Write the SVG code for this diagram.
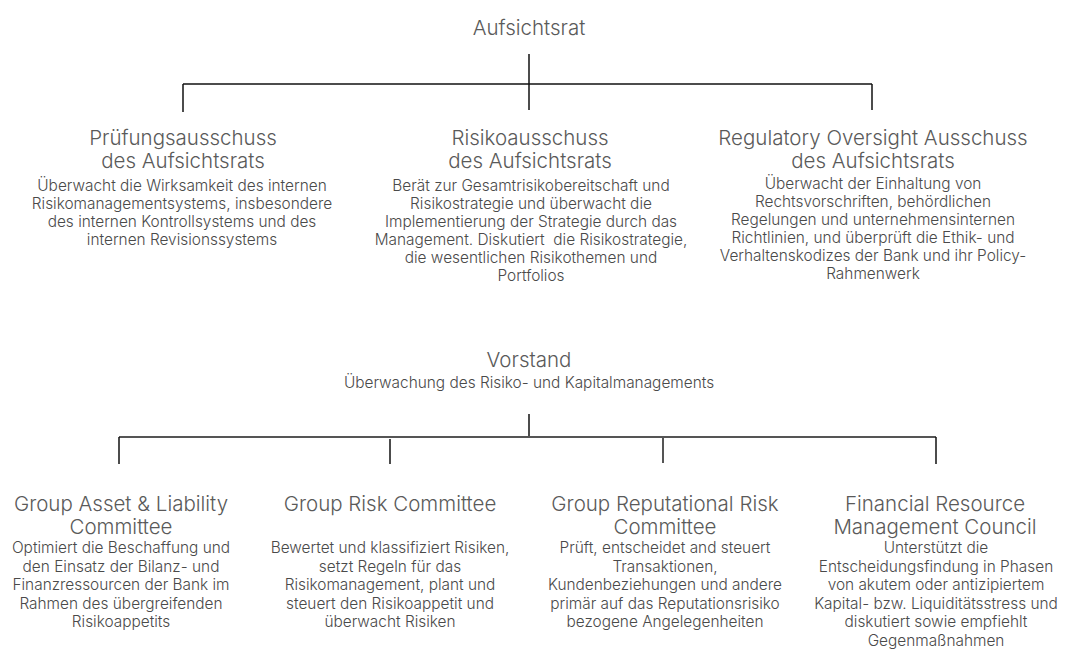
<svg xmlns="http://www.w3.org/2000/svg" width="1065" height="649" viewBox="0 0 1065 649">
  <style>
    text { font-family: Inter, "Open Sans", "Liberation Sans", sans-serif; text-anchor: middle; font-weight: 300; }
    .title { font-size: 20.5px; fill: #5a5a5a; }
    .desc { font-size: 15.4px; fill: #4a4a4a; }
    .line { stroke: #111; stroke-width: 1.5; fill: none; }
    .line-grey { stroke: #555; stroke-width: 2; fill: none; }
  </style>
  <rect width="1065" height="649" fill="#ffffff"/>

  <!-- connectors -->
  <g id="connectors">
    <!-- supervisory board tree -->
    <line class="line" x1="529" y1="54" x2="529" y2="84" stroke-width="2.2"/>
    <line class="line" x1="529" y1="84" x2="529" y2="110"/>
    <line class="line" x1="183" y1="84" x2="872" y2="84"/>
    <line class="line" x1="183" y1="84" x2="183" y2="112"/>
    <line class="line" x1="872" y1="84" x2="872" y2="110"/>
    <!-- management board tree -->
    <line class="line" x1="529" y1="414" x2="529" y2="437"/>
    <line class="line-grey" x1="119" y1="437" x2="936" y2="437"/>
    <line class="line" x1="119" y1="437" x2="119" y2="464"/>
    <line class="line" x1="390" y1="439" x2="390" y2="464"/>
    <line class="line-grey" x1="663" y1="437" x2="663" y2="463"/>
    <line class="line" x1="936" y1="437" x2="936" y2="464"/>
  </g>

  <g id="aufsichtsrat">
    <text class="title" x="529" y="35">Aufsichtsrat</text>
  </g>

  <g id="pruefungsausschuss">
    <text class="title" x="183" y="145">Prüfungsausschuss</text>
    <text class="title" x="183" y="168">des Aufsichtsrats</text>
    <text class="desc" x="182" y="191">Überwacht die Wirksamkeit des internen</text>
    <text class="desc" x="182" y="209">Risikomanagementsystems, insbesondere</text>
    <text class="desc" x="182" y="227">des internen Kontrollsystems und des</text>
    <text class="desc" x="182" y="245">internen Revisionssystems</text>
  </g>

  <g id="risikoausschuss">
    <text class="title" x="530" y="145">Risikoausschuss</text>
    <text class="title" x="530" y="168">des Aufsichtsrats</text>
    <text class="desc" x="531" y="191">Berät zur Gesamtrisikobereitschaft und</text>
    <text class="desc" x="531" y="209">Risikostrategie und überwacht die</text>
    <text class="desc" x="531" y="227">Implementierung der Strategie durch das</text>
    <text class="desc" x="531" y="245" xml:space="preserve">Management. Diskutiert  die Risikostrategie,</text>
    <text class="desc" x="531" y="263">die wesentlichen Risikothemen und</text>
    <text class="desc" x="531" y="281">Portfolios</text>
  </g>

  <g id="regulatory-oversight">
    <text class="title" x="873" y="145">Regulatory Oversight Ausschuss</text>
    <text class="title" x="873" y="168">des Aufsichtsrats</text>
    <text class="desc" x="873" y="189">Überwacht der Einhaltung von</text>
    <text class="desc" x="873" y="207">Rechtsvorschriften, behördlichen</text>
    <text class="desc" x="873" y="225">Regelungen und unternehmensinternen</text>
    <text class="desc" x="873" y="243">Richtlinien, und überprüft die Ethik- und</text>
    <text class="desc" x="873" y="261">Verhaltenskodizes der Bank und ihr Policy-</text>
    <text class="desc" x="873" y="279">Rahmenwerk</text>
  </g>

  <g id="vorstand">
    <text class="title" x="529" y="367">Vorstand</text>
    <text class="desc" x="529" y="388">Überwachung des Risiko- und Kapitalmanagements</text>
  </g>

  <g id="group-alco">
    <text class="title" x="121" y="511">Group Asset &amp; Liability</text>
    <text class="title" x="121" y="534">Committee</text>
    <text class="desc" x="121" y="553">Optimiert die Beschaffung und</text>
    <text class="desc" x="121" y="571.5">den Einsatz der Bilanz- und</text>
    <text class="desc" x="121" y="590">Finanzressourcen der Bank im</text>
    <text class="desc" x="121" y="608.5">Rahmen des übergreifenden</text>
    <text class="desc" x="121" y="627">Risikoappetits</text>
  </g>

  <g id="group-risk-committee">
    <text class="title" x="390" y="511">Group Risk Committee</text>
    <text class="desc" x="390" y="553">Bewertet und klassifiziert Risiken,</text>
    <text class="desc" x="390" y="571.5">setzt Regeln für das</text>
    <text class="desc" x="390" y="590">Risikomanagement, plant und</text>
    <text class="desc" x="390" y="608.5">steuert den Risikoappetit und</text>
    <text class="desc" x="390" y="627">überwacht Risiken</text>
  </g>

  <g id="group-reputational-risk">
    <text class="title" x="665" y="511">Group Reputational Risk</text>
    <text class="title" x="665" y="534">Committee</text>
    <text class="desc" x="665" y="553">Prüft, entscheidet and steuert</text>
    <text class="desc" x="665" y="571.5">Transaktionen,</text>
    <text class="desc" x="665" y="590">Kundenbeziehungen und andere</text>
    <text class="desc" x="665" y="608.5">primär auf das Reputationsrisiko</text>
    <text class="desc" x="665" y="627">bezogene Angelegenheiten</text>
  </g>

  <g id="financial-resource-council">
    <text class="title" x="935" y="511">Financial Resource</text>
    <text class="title" x="935" y="534">Management Council</text>
    <text class="desc" x="936" y="553">Unterstützt die</text>
    <text class="desc" x="936" y="571.5">Entscheidungsfindung in Phasen</text>
    <text class="desc" x="936" y="590">von akutem oder antizipiertem</text>
    <text class="desc" x="936" y="608.5">Kapital- bzw. Liquiditätsstress und</text>
    <text class="desc" x="936" y="627">diskutiert sowie empfiehlt</text>
    <text class="desc" x="936" y="645.5">Gegenmaßnahmen</text>
  </g>
</svg>
